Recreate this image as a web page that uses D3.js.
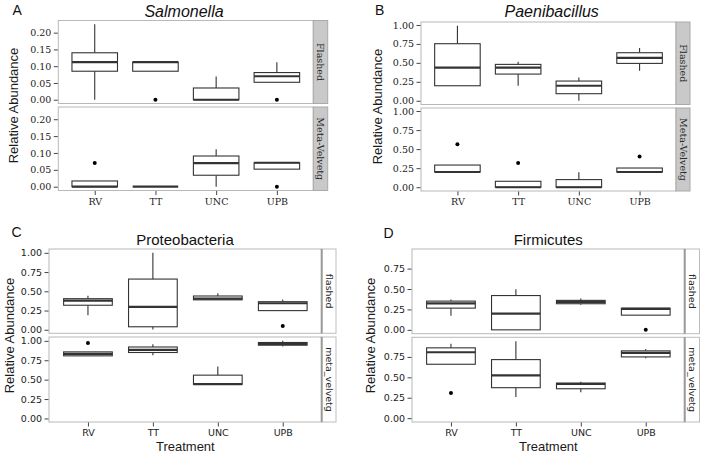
<!DOCTYPE html>
<html><head><meta charset="utf-8">
<script src="https://cdn.jsdelivr.net/npm/d3@7"></script>
<style>body{margin:0;background:#fff}svg{display:block}</style>
</head><body>
<svg id="chart" width="704" height="455"></svg>
<script>
// ---------- DATA ----------
const categories = ["RV", "TT", "UNC", "UPB"];
const facetsAB = ["Flashed", "Meta-Velvetg"];
const facetsCD = ["flashed", "meta_velvetg"];
const ticksA = [0, 0.05, 0.10, 0.15, 0.20];
const ticksBCD = [0, 0.25, 0.50, 0.75, 1.00];

// box stats: [lower whisker, Q1, median, Q3, upper whisker]
const salmonellaFlashed = [[0, 0.085, 0.112, 0.140, 0.225], [0.085, 0.085, 0.112, 0.112, 0.112], [0, 0, 0, 0.035, 0.069], [0.052, 0.052, 0.070, 0.081, 0.112]];
const salmonellaFlashedOut = [[], [0], [], [0]];
const salmonellaMeta = [[0, 0, 0, 0.017, 0.017], [0, 0, 0, 0, 0], [0, 0.034, 0.070, 0.091, 0.111], [0.052, 0.052, 0.071, 0.071, 0.071]];
const salmonellaMetaOut = [[0.070], [], [], [0]];

const paeniFlashed = [[0.198, 0.198, 0.436, 0.753, 0.99], [0.198, 0.352, 0.436, 0.48, 0.515], [0, 0.093, 0.198, 0.26, 0.308], [0.396, 0.493, 0.565, 0.634, 0.696]];
const paeniFlashedOut = [[], [], [], []];
const paeniMeta = [[0.2, 0.2, 0.2, 0.291, 0.291], [0, 0, 0, 0.078, 0.078], [0, 0, 0, 0.1, 0.196], [0.2, 0.2, 0.2, 0.252, 0.252]];
const paeniMetaOut = [[0.565], [0.317], [], [0.404]];

const proteoFlashed = [[0.188, 0.319, 0.378, 0.404, 0.443], [0.004, 0.039, 0.297, 0.659, 1.0], [0.389, 0.389, 0.404, 0.439, 0.476], [0.249, 0.249, 0.345, 0.365, 0.395]];
const proteoFlashedOut = [[], [], [], [0.048]];
const proteoMeta = [[0.807, 0.807, 0.833, 0.858, 0.858], [0.815, 0.85, 0.884, 0.921, 0.957], [0.44, 0.44, 0.442, 0.558, 0.67], [0.927, 0.944, 0.961, 0.979, 1.0]];
const proteoMetaOut = [[0.974], [], [], []];

const firmiFlashed = [[0.172, 0.266, 0.325, 0.352, 0.371], [0, 0, 0.198, 0.42, 0.496], [0.307, 0.32, 0.342, 0.361, 0.383], [0.18, 0.18, 0.258, 0.266, 0.266]];
const firmiFlashedOut = [[], [], [], [0]];
const firmiMeta = [[0.66, 0.66, 0.807, 0.861, 0.91], [0.258, 0.373, 0.525, 0.717, 0.943], [0.316, 0.36, 0.418, 0.43, 0.447], [0.734, 0.75, 0.8, 0.824, 0.848]];
const firmiMetaOut = [[0.307], [], [], []];

// ---------- LAYOUT ----------
const svg = d3.select("#chart");
const SERIF = "'DejaVu Serif', serif";
const SANS = "'Liberation Sans', Arial, sans-serif";
const TICKSANS = "'DejaVu Sans', sans-serif";

const panels = [
  {letter: "A", lx: 12.5, ly: 15, title: "Salmonella", italic: true, tx: 184, ty: 16.7, tsize: 16,
   x0: 58.3, x1: 313.3, sx: 327.7, f: [[20.5, 103.5], [107, 190.5]], ytx: 13.5,
   facets: facetsAB, ticks: ticksA, fmt: d3.format(".2f"), font: SERIF, stripStyle: "grey", xtitle: false,
   data: [[salmonellaFlashed, salmonellaFlashedOut], [salmonellaMeta, salmonellaMetaOut]]},
  {letter: "B", lx: 375, ly: 15, title: "Paenibacillus", italic: true, tx: 551.7, ty: 16.7, tsize: 16,
   x0: 421, x1: 676, sx: 690, f: [[22, 104.5], [108, 191]], ytx: 377,
   facets: facetsAB, ticks: ticksBCD, fmt: d3.format(".2f"), font: SERIF, stripStyle: "grey", xtitle: false,
   data: [[paeniFlashed, paeniFlashedOut], [paeniMeta, paeniMetaOut]]},
  {letter: "C", lx: 11.5, ly: 236.5, title: "Proteobacteria", italic: false, tx: 185, ty: 245, tsize: 15,
   x0: 49, x1: 321.7, sx: 336, f: [[249, 333.3], [337, 422]], ytx: 9.5,
   facets: facetsCD, ticks: ticksBCD, fmt: d3.format(".2f"), font: TICKSANS, stripStyle: "white", xtitle: true,
   data: [[proteoFlashed, proteoFlashedOut], [proteoMeta, proteoMetaOut]]},
  {letter: "D", lx: 383.5, ly: 238, title: "Firmicutes", italic: false, tx: 548.3, ty: 245, tsize: 15,
   x0: 412, x1: 684.7, sx: 699.5, f: [[249, 333.7], [337.3, 422]], ytx: 370.5,
   facets: facetsCD, ticks: ticksBCD, fmt: d3.format(".2f"), font: TICKSANS, stripStyle: "white", xtitle: true,
   data: [[firmiFlashed, firmiFlashedOut], [firmiMeta, firmiMetaOut]]}
];

const BOX = "#333333";

panels.forEach(p => {
  const g = svg.append("g");
  // shared y domain (ggplot-like 5% expansion)
  const all = [];
  p.data.forEach(([st, out]) => { st.forEach(s => all.push(...s)); out.forEach(o => all.push(...o)); });
  const lo = d3.min(all), hi = d3.max(all), ex = (hi - lo) * 0.05;
  const domain = [lo - ex, hi + ex];

  const x = d3.scalePoint().domain(categories).range([p.x0, p.x1]).padding(0.6);
  const bw = x.step() * 0.75;

  p.data.forEach(([stats, outs], fi) => {
    const [top, bot] = p.f[fi];
    const y = d3.scaleLinear().domain(domain).range([bot, top]);
    const fg = g.append("g");
    // panel background + border
    fg.append("rect").attr("x", p.x0).attr("y", top).attr("width", p.x1 - p.x0).attr("height", bot - top)
      .attr("fill", "#fff").attr("stroke", "#b8b8b8").attr("stroke-width", 1);
    // strip
    if (p.stripStyle === "grey") {
      fg.append("rect").attr("x", p.x1).attr("y", top).attr("width", p.sx - p.x1).attr("height", bot - top)
        .attr("fill", "#c9c9c9").attr("stroke", "#a9a9a9").attr("stroke-width", 1);
    } else {
      fg.append("rect").attr("x", p.x1).attr("y", top).attr("width", p.sx - p.x1).attr("height", bot - top)
        .attr("fill", "#fff").attr("stroke", "#bdbdbd").attr("stroke-width", 1);
      fg.append("line").attr("x1", p.x1).attr("x2", p.x1).attr("y1", top).attr("y2", bot)
        .attr("stroke", "#9a9a9a").attr("stroke-width", 2);
    }
    const scx = (p.x1 + p.sx) / 2, scy = (top + bot) / 2;
    fg.append("text").attr("transform", `translate(${scx},${scy}) rotate(90)`)
      .attr("text-anchor", "middle").attr("dy", "0.35em")
      .attr("font-family", p.font).attr("font-size", 9.5).attr("fill", "#2a2a2a")
      .text(p.facets[fi]);

    // y axis
    const tv = p.ticks.filter(t => t >= domain[0] && t <= domain[1]);
    const ax = d3.axisLeft(y).tickValues(tv).tickFormat(p.fmt).tickSize(4).tickPadding(2.5);
    const ag = fg.append("g").attr("transform", `translate(${p.x0 - 0.5},0)`).call(ax);
    ag.select(".domain").remove();
    ag.selectAll("line").attr("stroke", "#444");
    ag.selectAll("text").attr("font-family", p.font).attr("font-size", 9.5).attr("fill", "#222");

    // boxes
    stats.forEach((s, i) => {
      const cx = x(categories[i]);
      const [wl, q1, md, q3, wu] = s;
      const bx = fg.append("g");
      if (wu > q3) bx.append("line").attr("x1", cx).attr("x2", cx).attr("y1", y(q3)).attr("y2", y(wu))
        .attr("stroke", BOX).attr("stroke-width", 1.1);
      if (wl < q1) bx.append("line").attr("x1", cx).attr("x2", cx).attr("y1", y(q1)).attr("y2", y(wl))
        .attr("stroke", BOX).attr("stroke-width", 1.1);
      bx.append("rect").attr("x", cx - bw / 2).attr("y", y(q3)).attr("width", bw)
        .attr("height", Math.max(0, y(q1) - y(q3)))
        .attr("fill", "#fff").attr("stroke", BOX).attr("stroke-width", 1.1);
      bx.append("line").attr("x1", cx - bw / 2).attr("x2", cx + bw / 2).attr("y1", y(md)).attr("y2", y(md))
        .attr("stroke", BOX).attr("stroke-width", 2.2);
      outs[i].forEach(o => {
        bx.append("circle").attr("cx", cx).attr("cy", y(o)).attr("r", 2).attr("fill", "#000");
      });
    });

    // x axis on bottom facet
    if (fi === p.data.length - 1) {
      const xa = d3.axisBottom(x).tickSize(4).tickPadding(3);
      const xg = fg.append("g").attr("transform", `translate(0,${bot + 0.5})`).call(xa);
      xg.select(".domain").remove();
      xg.selectAll("line").attr("stroke", "#444");
      xg.selectAll("text").attr("font-family", p.font).attr("font-size", 9.5).attr("fill", "#222");
    }
  });

  // y title
  const ymid = (p.f[0][0] + p.f[1][1]) / 2;
  g.append("text").attr("transform", `translate(${p.ytx},${ymid}) rotate(-90)`)
    .attr("text-anchor", "middle").attr("dy", "0.35em")
    .attr("font-family", SANS).attr("font-size", 13).attr("fill", "#1a1a1a")
    .text("Relative Abundance");

  // title
  g.append("text").attr("x", p.tx).attr("y", p.ty).attr("text-anchor", "middle")
    .attr("font-family", SANS).attr("font-size", p.tsize)
    .attr("font-style", p.italic ? "italic" : "normal").attr("fill", "#111")
    .text(p.title);

  // panel letter
  g.append("text").attr("x", p.lx).attr("y", p.ly)
    .attr("font-family", SANS).attr("font-size", 14).attr("fill", "#111")
    .text(p.letter);

  if (p.xtitle) {
    g.append("text").attr("x", (p.x0 + p.x1) / 2).attr("y", 450.7).attr("text-anchor", "middle")
      .attr("font-family", SANS).attr("font-size", 13).attr("fill", "#1a1a1a")
      .text("Treatment");
  }
});
</script>
</body></html>
